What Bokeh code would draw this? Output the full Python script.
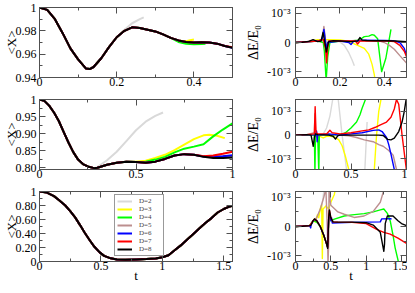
from bokeh.plotting import figure
from bokeh.models import Range1d, LinearAxis, FixedTicker, Legend, LegendItem
from bokeh.layouts import column, row
from bokeh.embed import file_html
from bokeh.resources import INLINE

FONT = "Liberation Serif"
AXC = "#505050"

labels = ["D=2", "D=3", "D=4", "D=5", "D=6", "D=7", "D=8"]
colors = ["#d9d9d9", "#ffff00", "#00ff00", "#bc8f8f", "#0000ff", "#ff0000", "#000000"]

# ---------------- <X>, top row ----------------
X1_t = [0, 0.02, 0.04, 0.06, 0.08, 0.10, 0.12, 0.13, 0.14, 0.16, 0.18, 0.20, 0.22,
        0.24, 0.26, 0.28, 0.30, 0.32, 0.34, 0.36, 0.38, 0.40, 0.42, 0.44, 0.46, 0.48, 0.50]
X1_D8 = [1.0, 0.998, 0.990, 0.978, 0.965, 0.9555, 0.9478, 0.9472, 0.949, 0.9565, 0.966,
         0.9745, 0.980, 0.983, 0.9825, 0.981, 0.9795, 0.977, 0.974, 0.9718, 0.9705, 0.970,
         0.9702, 0.970, 0.969, 0.967, 0.9655]
X1_D2_tail_t = [0.22, 0.24, 0.26, 0.27]
X1_D2_tail_v = [0.981, 0.9865, 0.990, 0.9915]
X1_D3_tail_t = [0.37, 0.38, 0.39, 0.40]
X1_D3_tail_v = [0.9712, 0.9712, 0.972, 0.9725]
X1_D4_tail_t = [0.36, 0.38, 0.40, 0.42, 0.43]
X1_D4_tail_v = [0.9705, 0.969, 0.9685, 0.9688, 0.969]
X1_D7_end = [0.9660]

# ---------------- <X>, middle row ----------------
X2_t = [0, 0.025, 0.05, 0.075, 0.1, 0.125, 0.15, 0.175, 0.2, 0.225, 0.25, 0.283, 0.3,
        0.35, 0.4, 0.45, 0.5, 0.55, 0.6, 0.65, 0.7, 0.75, 0.8, 0.85, 0.9, 0.95, 1.0]
X2_D8 = [1.0, 0.996, 0.982, 0.962, 0.937, 0.905, 0.874, 0.846, 0.824, 0.811, 0.804, 0.799,
         0.800, 0.809, 0.815, 0.818, 0.817, 0.815, 0.818, 0.826, 0.836, 0.840, 0.838, 0.832,
         0.829, 0.829, 0.830]
X2_D2_tail_t = [0.3, 0.35, 0.4, 0.45, 0.5, 0.55, 0.6, 0.64]
X2_D2_tail_v = [0.802, 0.822, 0.847, 0.878, 0.91, 0.935, 0.952, 0.962]
X2_D3_tail_t = [0.5, 0.55, 0.6, 0.65, 0.7, 0.75, 0.8, 0.85, 0.88, 0.92, 0.96]
X2_D3_tail_v = [0.818, 0.821, 0.829, 0.838, 0.852, 0.868, 0.884, 0.895, 0.897, 0.894, 0.887]
X2_D4_tail_t = [0.5, 0.55, 0.6, 0.65, 0.7, 0.75, 0.8, 0.85, 0.9, 0.95, 1.0]
X2_D4_tail_v = [0.817, 0.818, 0.824, 0.832, 0.845, 0.856, 0.862, 0.869, 0.892, 0.912, 0.93]
X2_end_t = [0.85, 0.9, 0.95, 1.0]
X2_D5_end = [0.834, 0.832, 0.833, 0.834]
X2_D6_end = [0.833, 0.832, 0.834, 0.837]
X2_D7_end = [0.834, 0.836, 0.841, 0.847]

# ---------------- <X>, bottom row ----------------
X3_t = [0, 0.06, 0.118, 0.16, 0.21, 0.25, 0.29, 0.33, 0.368, 0.41, 0.447, 0.49, 0.526,
        0.58, 0.63, 0.7, 0.79, 0.87, 0.947, 1.0, 1.05, 1.1, 1.15, 1.2, 1.25, 1.3, 1.35,
        1.4, 1.45, 1.5, 1.54, 1.5708]
X3_D8 = [1.0, 0.985, 0.934, 0.875, 0.80, 0.72, 0.63, 0.52, 0.41, 0.30, 0.21, 0.13, 0.08,
         0.045, 0.03, 0.025, 0.03, 0.035, 0.043, 0.06, 0.09, 0.16, 0.23, 0.31, 0.39, 0.47,
         0.55, 0.62, 0.70, 0.75, 0.78, 0.795]

# ---------------- dE/E0 (units of 1e-3), top row ----------------
E1_D2_t = [0, 0.05, 0.1, 0.15, 0.2, 0.22, 0.24, 0.255, 0.265]
E1_D2_v = [0, 0.03, 0.05, 0.05, 0.02, -0.1, -0.35, -0.6, -0.8]
E1_D3_t = [0, 0.05, 0.1, 0.15, 0.2, 0.23, 0.26, 0.28, 0.31, 0.33, 0.345, 0.355, 0.36]
E1_D3_v = [0, 0.02, 0.1, 0.1, 0.09, 0.05, -0.03, -0.1, -0.2, -0.4, -0.75, -1.1, -1.4]
E1_D4_t = [0, 0.05, 0.1, 0.125, 0.13, 0.138, 0.145, 0.155, 0.2, 0.25, 0.28, 0.3, 0.31,
           0.33, 0.345, 0.355, 0.37, 0.388, 0.407, 0.43]
E1_D4_v = [0, 0.02, 0.05, 0.0, -0.3, -1.3, -0.5, 0.0, 0.05, 0.05, 0.08, 0.15, 0.2, 0.22,
           0.27, 0.25, 0.13, -1.0, -0.54, 0.45]
E1_D5_t = [0, 0.1, 0.12, 0.128, 0.135, 0.14, 0.15, 0.2, 0.3, 0.38, 0.4, 0.42, 0.445, 0.47, 0.5]
E1_D5_v = [0, 0.05, 0.1, 0.55, 0.1, -0.2, 0.05, 0.05, 0.07, 0.05, 0.0, -0.08, -0.23, -0.45, -0.7]
E1_D6_t = [0, 0.1, 0.12, 0.128, 0.134, 0.138, 0.145, 0.2, 0.24, 0.25, 0.26, 0.3, 0.4, 0.44,
           0.47, 0.49, 0.5]
E1_D6_v = [0, 0.05, 0.1, 0.45, 0.1, -0.23, 0.0, 0.05, 0.0, -0.07, 0.03, 0.08, 0.07, 0.06,
           0.0, -0.2, -0.45]
E1_D7_t = [0, 0.1, 0.125, 0.135, 0.14, 0.145, 0.15, 0.2, 0.27, 0.28, 0.29, 0.4, 0.445,
           0.47, 0.49, 0.5]
E1_D7_v = [0, 0.05, 0.1, -0.2, -0.7, -0.2, 0.05, 0.05, 0.05, -0.05, 0.05, 0.06, 0.03,
           -0.1, -0.3, -0.49]
E1_D8_t = [0, 0.03, 0.06, 0.079, 0.1, 0.115, 0.124, 0.13, 0.139, 0.149, 0.17, 0.2, 0.25,
           0.28, 0.29, 0.3, 0.32, 0.36, 0.4, 0.45, 0.5]
E1_D8_v = [0, 0.01, 0.04, 0.1, 0.03, 0.05, 0.34, 0.1, -0.33, 0.03, 0.06, 0.05, 0.03,
           0.05, 0.17, 0.08, 0.07, 0.06, 0.06, 0.05, 0.03]

# ---------------- dE/E0, middle row ----------------
E2_D2_t = [0, 0.1, 0.2, 0.25, 0.28, 0.31, 0.335, 0.36, 0.385, 0.42, 0.46, 0.5, 0.6, 0.625, 0.645]
E2_D2_v = [0, 0.02, 0.02, 0.05, 0.3, 0.8, 1.5, 2.0, 1.5, 0.0, -1.45, -2.5, -2.5, -1.45, 0.55]
E2_D3_t = [0, 0.1, 0.15, 0.18, 0.2, 0.22, 0.25, 0.28, 0.32, 0.36, 0.39, 0.42, 0.45, 0.48,
           0.52, 0.68, 0.71, 0.73, 0.75, 0.77, 0.8, 0.96]
E2_D3_v = [0, 0.02, 0.0, -0.05, -0.1, -0.05, -0.12, -0.05, -0.05, -0.1, -0.2, -0.45, -0.9,
           -1.45, -2.5, -2.5, -1.45, 0.0, 1.0, 1.5, 2.5, 2.5]
E2_D4_t = [0, 0.1, 0.17, 0.175, 0.18, 0.2, 0.21, 0.215, 0.3, 0.4, 0.45, 0.5, 0.55, 0.58,
           0.6, 0.63, 0.66, 1.0]
E2_D4_v = [0, 0.02, 0.0, -1.6, 0.0, 0.0, -1.6, 0.0, 0.0, 0.0, 0.1, 0.3, 0.55, 0.85, 1.13,
           1.5, 2.0, 2.5]
E2_D5_t = [0, 0.1, 0.17, 0.175, 0.18, 0.2, 0.3, 0.4, 0.48, 0.55, 0.62, 0.7, 0.75, 0.79,
           0.84, 0.88, 0.91, 0.93]
E2_D5_v = [0, 0.02, 0.1, 0.9, 0.2, 0.0, 0.02, 0.0, -0.03, -0.1, -0.2, -0.28, -0.4, -0.47,
           -0.65, -0.85, -1.45, -2.0]
E2_D6_t = [0, 0.1, 0.18, 0.19, 0.195, 0.2, 0.3, 0.4, 0.5, 0.6, 0.7, 0.75, 0.78, 0.82,
           0.84, 0.86, 0.89, 0.9]
E2_D6_v = [0, 0.02, 0.0, 0.17, -0.28, 0.0, 0.05, 0.0, 0.05, 0.1, 0.2, 0.22, 0.15, -0.1,
           -0.4, -0.8, -1.45, -2.0]
E2_D7_t = [0, 0.1, 0.17, 0.177, 0.185, 0.2, 0.28, 0.31, 0.33, 0.4, 0.5, 0.6, 0.66, 0.72,
           0.76, 0.82, 0.86, 0.89, 0.91, 0.93, 0.96, 1.0]
E2_D7_v = [0, 0.02, 0.05, 1.2, 0.1, 0.05, 0.05, 0.2, 0.1, 0.05, 0.1, 0.18, 0.22, 0.33,
           0.42, 0.55, 0.75, 1.1, 1.5, 1.3, 0.0, -1.5]
E2_D8_t = [0, 0.1, 0.14, 0.16, 0.17, 0.18, 0.2, 0.3, 0.34, 0.36, 0.38, 0.4, 0.6, 0.75,
           0.79, 0.83, 0.86, 0.89, 0.93, 0.96, 0.98, 1.0]
E2_D8_v = [0, 0.02, 0.0, -0.47, -0.1, 0.05, 0.02, 0.0, -0.05, -0.17, -0.03, 0.0, 0.0, 0.0,
           -0.02, -0.18, -0.2, -0.13, 0.15, 0.55, 1.0, 1.6]

# ---------------- dE/E0, bottom row ----------------
E3_D2_t = [0, 0.2, 0.25, 0.3, 0.35, 0.38, 0.4, 0.42]
E3_D2_v = [0, 0.03, 0.15, 0.3, 0.55, 0.8, 1.2, 1.5]
E3_D3_t = [0, 0.2, 0.23, 0.26, 0.28, 0.31, 0.33, 0.35, 0.37, 0.38, 0.39, 0.43, 0.47, 0.5,
           0.55, 0.58]
E3_D3_v = [0, 0.03, 0.1, 0.25, 0.15, 0.4, 0.3, 0.6, 0.75, -1.1, 0.6, 0.7, 0.6, 0.83, 1.1, 1.5]
E3_D4_t = [0, 0.2, 0.25, 0.3, 0.35, 0.4, 0.455, 0.47, 0.48, 0.5, 0.55, 0.69, 0.8, 0.97,
           1.1, 1.2, 1.25, 1.3, 1.34, 1.38, 1.41, 1.46]
E3_D4_v = [0, 0.03, 0.2, 0.15, 0.0, -0.3, -0.7, 0.2, 0.45, 0.2, 0.25, 0.36, 0.4, 0.44,
           0.5, 0.57, 0.6, 0.45, 0.2, -0.3, -0.73, -1.25]
E3_D5_t = [0, 0.2, 0.25, 0.3, 0.35, 0.4, 0.43, 0.45, 0.46, 0.47, 0.475, 0.49, 0.5, 0.6,
           0.69, 0.83, 0.97, 1.1, 1.2, 1.25]
E3_D5_v = [0, 0.03, 0.2, 0.3, 0.6, 1.0, 1.3, 0.0, -1.3, -0.5, 1.5, 0.9, 0.73, 0.5, 0.42,
           0.31, 0.36, 0.52, 0.83, 1.25]
E3_D6_t = [0, 0.2, 0.215, 0.22, 0.25, 0.27, 0.3, 0.35, 0.4, 0.455, 0.47, 0.48, 0.5, 0.51,
           0.52, 0.6, 0.8, 1.0, 1.2, 1.22, 1.34, 1.36]
E3_D6_v = [0, 0.03, -0.05, 0.05, 0.2, 0.25, 0.2, 0.0, -0.3, -0.7, 0.3, 0.45, 0.2, 0.3,
           0.12, 0.13, 0.14, 0.15, 0.16, 0.26, 0.27, 0.25]
E3_D7_t = [0, 0.2, 0.25, 0.27, 0.3, 0.35, 0.4, 0.455, 0.47, 0.48, 0.5, 0.53, 0.6, 0.8,
           1.0, 1.15, 1.25, 1.34, 1.45, 1.53, 1.5708]
E3_D7_v = [0, 0.03, 0.2, 0.25, 0.2, 0.0, -0.3, -0.72, 0.3, 0.55, 0.3, 0.16, 0.15, 0.14,
           0.1, -0.1, -0.2, -0.26, -0.4, -0.52, -0.58]
E3_D8_t = [0, 0.1, 0.2, 0.22, 0.25, 0.27, 0.3, 0.35, 0.4, 0.44, 0.455, 0.47, 0.48, 0.5,
           0.53, 0.6, 0.8, 1.0, 1.1, 1.2, 1.25, 1.26, 1.27, 1.3, 1.38, 1.45, 1.5, 1.5708]
E3_D8_v = [0, 0.01, 0.03, 0.05, 0.2, 0.26, 0.2, 0.0, -0.3, -0.6, -0.75, 0.3, 0.57, 0.3,
           0.16, 0.15, 0.15, 0.13, 0.05, -0.2, -0.85, -0.6, 0.1, 0.36, 0.36, 0.2, 0.1, 0.03]

# ---------------- ticks ----------------
X1_yticks = [0.94, 0.96, 0.98, 1.0]
X1_ytick_labels = ["0.94", "0.96", "0.98", "1"]
X1_yminor = [0.95, 0.97, 0.99]
X2_yticks = [0.80, 0.85, 0.90, 0.95, 1.0]
X2_ytick_labels = ["0.80", "0.85", "0.90", "0.95", "1"]
X2_yminor = [0.825, 0.875, 0.925, 0.975]
X3_yticks = [0, 0.2, 0.4, 0.6, 0.8, 1.0]
X3_ytick_labels = ["0", "0.20", "0.40", "0.60", "0.80", "1"]
X3_yminor = [0.1, 0.3, 0.5, 0.7, 0.9]
E_yticks = [-1, 0, 1]
E_ytick_labels = ["-10⁻³", "0", "10⁻³"]
E_yminor = [-0.5, 0.5]
T1_ticks = [0, 0.2, 0.4]
T1_labels = ["0", "0.2", "0.4"]
T1_minor = [0.1, 0.3]
T2_ticks = [0, 0.5, 1.0]
T2_labels = ["0", "0.5", "1"]
T2_minor = [0.25, 0.75]
T3_ticks = [0, 0.5, 1.0, 1.5]
T3_labels = ["0", "0.5", "1", "1.5"]
T3_minor = [0.25, 0.75, 1.25]


def base_axis(ax):
    ax.axis_line_color = AXC
    ax.major_tick_line_color = AXC
    ax.minor_tick_line_color = AXC
    ax.major_tick_in = 6
    ax.major_tick_out = 0
    ax.minor_tick_in = 3
    ax.minor_tick_out = 0


def style_axis(ax, ticks, minor, tick_labels):
    ax.ticker = FixedTicker(ticks=ticks, minor_ticks=minor)
    base_axis(ax)
    ax.major_label_text_font = FONT
    ax.major_label_text_color = "black"
    ax.major_label_text_font_size = "12px"
    ax.major_label_overrides = {k: s for k, s in zip(ticks, tick_labels)}
    ax.axis_label_text_font = FONT
    ax.axis_label_text_font_style = "normal"
    ax.axis_label_text_color = "black"


def mirror_axes(p, side, ticks, minor):
    # label-free mirror ticks: one axis for the long ticks, one for the short ones
    for tick_list, length in ((ticks, 6), (minor, 3)):
        ax = LinearAxis(ticker=FixedTicker(ticks=[], minor_ticks=tick_list))
        base_axis(ax)
        ax.minor_tick_in = length
        p.add_layout(ax, side)


def panel(W, H, bl, br, bt, bb, xr, yr, xt, xl, xm, yt, yl, ym, ylabel, ylab_size,
          ylab_standoff, ylab_label_standoff, xlabel=None):
    p = figure(width=W, height=H, x_range=Range1d(*xr), y_range=Range1d(*yr),
               output_backend="svg", toolbar_location=None,
               min_border_left=bl, min_border_right=br,
               min_border_top=bt, min_border_bottom=bb)
    p.xgrid.visible = False
    p.ygrid.visible = False
    p.outline_line_color = AXC
    p.background_fill_color = "white"
    p.border_fill_color = "white"
    style_axis(p.xaxis[0], xt, xm, xl)
    p.xaxis[0].major_label_standoff = 0
    style_axis(p.yaxis[0], yt, ym, yl)
    p.yaxis[0].major_label_standoff = ylab_label_standoff
    p.yaxis[0].axis_label = ylabel
    p.yaxis[0].axis_label_text_font_size = ylab_size
    p.yaxis[0].axis_label_standoff = ylab_standoff
    if xlabel:
        p.xaxis[0].axis_label = xlabel
        p.xaxis[0].axis_label_text_font_size = "13px"
        p.xaxis[0].axis_label_standoff = -5
    mirror_axes(p, "above", xt, xm)
    mirror_axes(p, "right", yt, ym)
    return p


LW, RW = 240, 167
rows_h = [(92, 7, 15), (92, 7, 15), (101, 7, 24)]

X1_series = [
    (X1_t[:12] + X1_D2_tail_t, X1_D8[:12] + X1_D2_tail_v),
    (X1_t[:20] + X1_D3_tail_t, X1_D8[:20] + X1_D3_tail_v),
    (X1_t[:19] + X1_D4_tail_t, X1_D8[:19] + X1_D4_tail_v),
    (X1_t, X1_D8),
    (X1_t, X1_D8),
    (X1_t, X1_D8[:-1] + X1_D7_end),
    (X1_t, X1_D8),
]
X2_series = [
    (X2_t[:12] + X2_D2_tail_t, X2_D8[:12] + X2_D2_tail_v),
    (X2_t[:16] + X2_D3_tail_t, X2_D8[:16] + X2_D3_tail_v),
    (X2_t[:16] + X2_D4_tail_t, X2_D8[:16] + X2_D4_tail_v),
    (X2_t[:23] + X2_end_t, X2_D8[:23] + X2_D5_end),
    (X2_t[:23] + X2_end_t, X2_D8[:23] + X2_D6_end),
    (X2_t[:23] + X2_end_t, X2_D8[:23] + X2_D7_end),
    (X2_t, X2_D8),
]
X3_series = [(X3_t, X3_D8)] * 7
E1_series = [(E1_D2_t, E1_D2_v), (E1_D3_t, E1_D3_v), (E1_D4_t, E1_D4_v), (E1_D5_t, E1_D5_v),
             (E1_D6_t, E1_D6_v), (E1_D7_t, E1_D7_v), (E1_D8_t, E1_D8_v)]
E2_series = [(E2_D2_t, E2_D2_v), (E2_D3_t, E2_D3_v), (E2_D4_t, E2_D4_v), (E2_D5_t, E2_D5_v),
             (E2_D6_t, E2_D6_v), (E2_D7_t, E2_D7_v), (E2_D8_t, E2_D8_v)]
E3_series = [(E3_D2_t, E3_D2_v), (E3_D3_t, E3_D3_v), (E3_D4_t, E3_D4_v), (E3_D5_t, E3_D5_v),
             (E3_D6_t, E3_D6_v), (E3_D7_t, E3_D7_v), (E3_D8_t, E3_D8_v)]

left_specs = [
    ((0, 0.5), (0.94, 1.0), T1_ticks, T1_labels, T1_minor, X1_yticks, X1_ytick_labels, X1_yminor, X1_series),
    ((0, 1.0), (0.795, 1.0), T2_ticks, T2_labels, T2_minor, X2_yticks, X2_ytick_labels, X2_yminor, X2_series),
    ((0, 1.5708), (0, 1.0), T3_ticks, T3_labels, T3_minor, X3_yticks, X3_ytick_labels, X3_yminor, X3_series),
]
right_specs = [
    ((0, 0.5), (-1.2, 1.2), T1_ticks, T1_labels, T1_minor, E1_series),
    ((0, 1.0), (-1.45, 1.5), T2_ticks, T2_labels, T2_minor, E2_series),
    ((0, 1.5708), (-1.2, 1.2), T3_ticks, T3_labels, T3_minor, E3_series),
]

rows = []
for i in range(3):
    H, bt, bb = rows_h[i]
    xr, yr, xt, xl, xm, yt, yl, ym, ser = left_specs[i]
    last = (i == 2)
    pl = panel(LW, H, 34, 8, bt, bb, xr, yr, xt, xl, xm, yt, yl, ym, "<X>", "13px", -6, 3,
               "t" if last else None)
    rends = []
    for (tt, vv), c in zip(ser, colors):
        r = pl.line(tt, vv, line_color=c, line_width=2, line_join="round")
        rends.append(r)
    if last:
        leg = Legend(items=[LegendItem(label=lab, renderers=[r]) for lab, r in zip(labels, rends)])
        leg.location = (75, 5)
        leg.label_text_font = FONT
        leg.label_text_font_size = "7px"
        leg.glyph_width = 15
        leg.glyph_height = 8
        leg.label_height = 8
        leg.label_width = 22
        leg.label_standoff = 7
        leg.spacing = 0
        leg.padding = 2
        leg.margin = 0
        leg.border_line_color = "#333333"
        leg.border_line_width = 1
        leg.background_fill_alpha = 1.0
        pl.add_layout(leg, "center")

    xr, yr, xt, xl, xm, ser = right_specs[i]
    pr = panel(RW, H, 55, 1, bt, bb, xr, yr, xt, xl, xm, E_yticks, E_ytick_labels, E_yminor,
               "ΔE/E₀", "14px", 3, 5, "t" if last else None)
    for (tt, vv), c in zip(ser, colors):
        pr.line(tt, vv, line_color=c, line_width=1.4, line_join="round")
    rows.append(row(pl, pr))

layout = column(*rows)
open("out.html", "w").write(file_html(layout, INLINE))
